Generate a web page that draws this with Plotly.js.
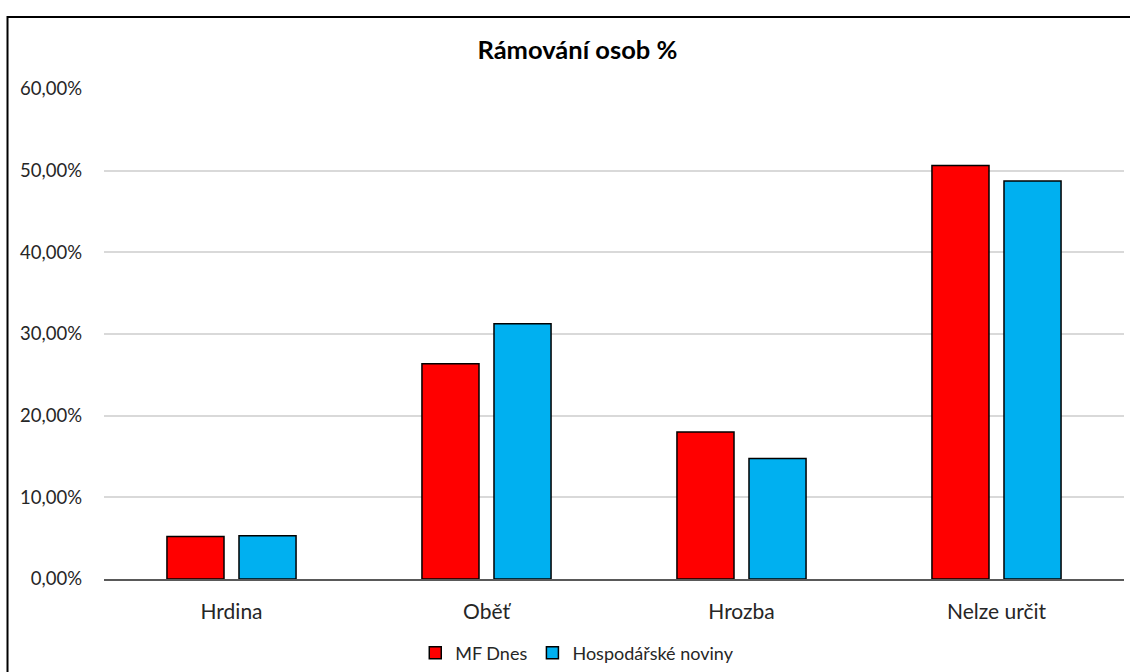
<!DOCTYPE html>
<html>
<head>
<meta charset="utf-8">
<script src="https://cdn.plot.ly/plotly-3.0.1.min.js"></script>
<style>html,body{margin:0;padding:0;background:#fff;}#chart{width:1130px;height:672px;}</style>
</head>
<body>
<div id="chart"></div>
<script>
const categories = ["Hrdina", "Oběť", "Hrozba", "Nelze určit"];
const seriesNames = ["MF Dnes", "Hospodářské noviny"];
const mfDnes = [5.21, 26.35, 17.99, 50.62];
const hospodarske = [5.30, 31.25, 14.76, 48.75];
const yTicks = [0, 10, 20, 30, 40, 50, 60];
const yTickLabels = ["0,00%", "10,00%", "20,00%", "30,00%", "40,00%", "50,00%", "60,00%"];

const font = "Lato, 'Open Sans', sans-serif";
const traces = [
  {type: "bar", name: seriesNames[0], x: categories, y: mfDnes,
   marker: {color: "#FF0000", line: {color: "#000000", width: 1.5}}},
  {type: "bar", name: seriesNames[1], x: categories, y: hospodarske,
   marker: {color: "#00B0F0", line: {color: "#000000", width: 1.5}}}
];
const layout = {
  width: 1130, height: 672,
  margin: {l: 104, r: 6, t: 89, b: 93, autoexpand: false},
  paper_bgcolor: "#fff", plot_bgcolor: "#fff",
  font: {family: font, color: "#262626"},
  title: {text: "<b>Rámování osob %</b>", font: {size: 25.5, color: "#000", family: font}, x: 0.511, xanchor: "center", y: 0.925, yanchor: "middle"},
  bargap: 0.435, bargroupgap: 0.208,
  xaxis: {showline: true, linecolor: "#595959", linewidth: 1.5, tickfont: {size: 21, color: "#262626"}, ticks: "", ticklabelstandoff: 13, automargin: false},
  yaxis: {range: [0, 60], tickvals: yTicks, ticktext: yTickLabels, showgrid: true, gridcolor: "#D9D9D9", gridwidth: 1.5, zeroline: false, showline: false, tickfont: {size: 18.5, color: "#262626"}, ticklabelstandoff: 21, automargin: false},
  legend: {orientation: "h", x: 0.464, xanchor: "center", y: -0.151, yanchor: "middle", font: {size: 18, color: "#262626"}, itemwidth: 30},
  shapes: [{type: "rect", xref: "paper", yref: "paper", x0: -0.0946, x1: 1.2, y0: -0.3, y1: 1.147, line: {color: "#000", width: 2}, fillcolor: "rgba(0,0,0,0)", layer: "above"}]
};
Plotly.newPlot("chart", traces, layout, {displayModeBar: false});
</script>
</body>
</html>
